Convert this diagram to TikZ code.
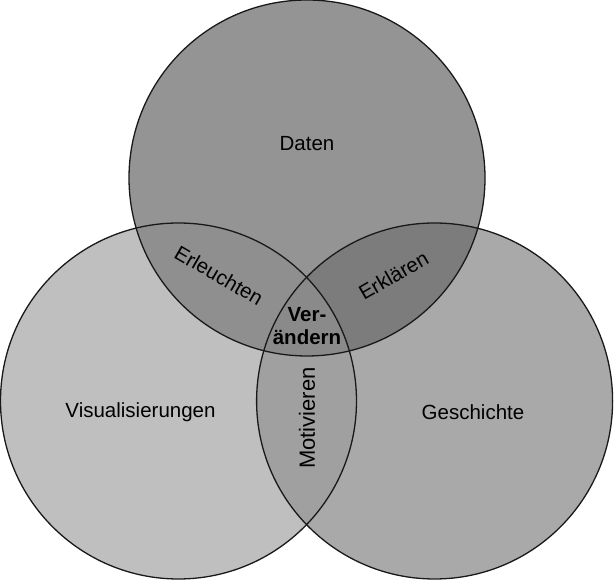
\documentclass[tikz,border=0pt]{standalone}
\usepackage{fontspec}
\setmainfont{Liberation Sans}
\begin{document}
\begin{tikzpicture}[x=1pt,y=1pt,
  lbl/.style={font=\fontsize{20.5}{24}\selectfont, inner sep=0pt, text=black},
  ring/.style={draw=black!90, line width=1.3pt}]
\useasboundingbox (0,0) rectangle (614,580);
\def\R{178}
\coordinate (cl) at (178.5,179);
\coordinate (cr) at (434.6,179);
\coordinate (ct) at (307,402);
% single fills
\fill[fill={rgb,255:red,191;green,191;blue,191}] (cl) circle (\R);
\fill[fill={rgb,255:red,169;green,169;blue,169}] (cr) circle (\R);
\fill[fill={rgb,255:red,148;green,148;blue,148}] (ct) circle (\R);
% pairwise
\begin{scope}
  \clip (cl) circle (\R);
  \fill[fill={rgb,255:red,143;green,143;blue,143}] (ct) circle (\R);
\end{scope}
\begin{scope}
  \clip (cr) circle (\R);
  \fill[fill={rgb,255:red,124;green,124;blue,124}] (ct) circle (\R);
\end{scope}
\begin{scope}
  \clip (cl) circle (\R);
  \fill[fill={rgb,255:red,160;green,160;blue,160}] (cr) circle (\R);
\end{scope}
\begin{scope}
  \clip (cl) circle (\R);
  \clip (cr) circle (\R);
  \fill[fill={rgb,255:red,138;green,138;blue,138}] (ct) circle (\R);
\end{scope}
% outlines
\draw[ring] (cl) circle (\R);
\draw[ring] (cr) circle (\R);
\draw[ring] (ct) circle (\R);
% labels
\node[lbl] (daten) at (307,436) {Daten};
\node[lbl] (vis) at (140.5,167.5) {Visualisierungen};
\node[lbl] (gesch) at (473,167.5) {Geschichte};
\node[lbl, rotate=-30] (erl) at (219,304.5) {Erleuchten};
\node[lbl, rotate=30] (erk) at (393.5,304.5) {Erklären};
\node[lbl, font=\fontsize{20.5}{23}\selectfont\bfseries, align=center] (ver) at (307,254) {Ver-\\ändern};
\node[lbl, font=\fontsize{22}{26}\selectfont, rotate=90] (mot) at (307,162) {Motivieren};
\end{tikzpicture}
\end{document}
